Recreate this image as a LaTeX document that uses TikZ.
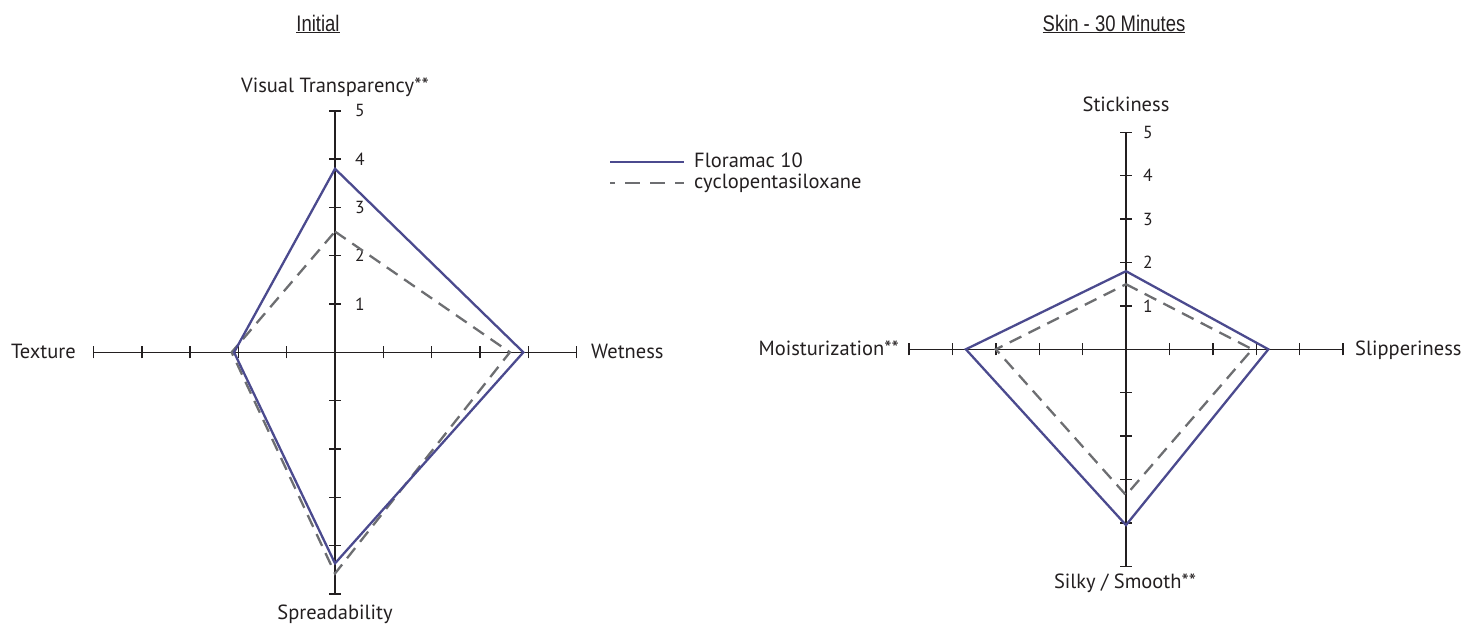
\documentclass[tikz,border=0pt]{standalone}
\usepackage{fontspec}
\setmainfont{PT Sans}
\newfontfamily\titlefont[FakeStretch=0.82]{Liberation Sans}
\definecolor{axiscol}{HTML}{231F20}
\definecolor{floracol}{HTML}{4B4A8E}
\definecolor{cyclocol}{HTML}{6D6E71}
\tikzset{
  axisline/.style={draw=axiscol, line width=1.4pt},
  florastyle/.style={draw=floracol, line width=2.3pt, line join=miter},
  cyclostyle/.style={draw=cyclocol, line width=2.3pt, dash pattern=on 13pt off 8pt, line join=miter},
  axislabel/.style={inner sep=0pt, font=\fontsize{20.5}{22}\selectfont, text=axiscol},
  numlabel/.style={inner sep=0pt, anchor=west, font=\fontsize{17.5}{19}\selectfont, text=axiscol},
  titlelabel/.style={inner sep=0pt, font=\titlefont\fontsize{22.5}{24}\selectfont, text=axiscol},
  legendtext/.style={inner sep=0pt, anchor=west, font=\fontsize{20.5}{22}\selectfont, text=axiscol}
}
\begin{document}
\begin{tikzpicture}[x=1pt,y=-1pt]
\useasboundingbox (0,0) rectangle (1463,624);

% ---------- titles ----------
\node[titlelabel] (t1) at (318,24) {\underline{Initial}};
\node[titlelabel] (t2) at (1114,24) {\underline{Skin - 30 Minutes}};

% ---------- left chart ----------
\begin{scope}[shift={(335,352.3)}, x=48.3pt, y=48.3pt]
  \draw[axisline] (-5,0) -- (5,0);
  \draw[axisline] (0,-5) -- (0,5);
  \foreach \i in {-5,-4,-3,-2,-1,1,2,3,4,5} {
    \draw[axisline] (\i,0) ++(0pt,-6pt) -- ++(0pt,12pt);
    \draw[axisline] (0,\i) ++(-6pt,0pt) -- ++(12pt,0pt);
  }
  \foreach \i in {1,...,5} {
    \node[numlabel] (ln\i) at ([xshift=20pt]0,\i) {\i};
  }
  \draw[cyclostyle] (0,2.5) -- (3.62,0) -- (0,-4.58) -- (-2.14,0) -- cycle;
  \draw[florastyle] (0,3.8) -- (3.9,0) -- (0,-4.37) -- (-2.09,0) -- cycle;
\end{scope}
\node[axislabel] (vt) at (335,87) {Visual Transparency**};
\node[axislabel] (sp) at (335,614) {Spreadability};
\node[axislabel, anchor=east] (tx) at (76,351) {Texture};
\node[axislabel, anchor=west] (we) at (591,351) {Wetness};

% ---------- legend ----------
\node[legendtext] (lg1) at (694,160) {Floramac 10};
\node[legendtext] (lg2) at (694,183) {cyclopentasiloxane};
\draw[florastyle] (610,162.3) -- (684,162.3);
\draw[draw=cyclocol, line width=1.8pt, dash pattern=on 15pt off 10pt, dash phase=10pt] (610,183.3) -- (684,183.3);

% ---------- right chart ----------
\begin{scope}[shift={(1126,349.3)}, x=43.4pt, y=43.4pt]
  \draw[axisline] (-5,0) -- (5,0);
  \draw[axisline] (0,-5) -- (0,5);
  \foreach \i in {-5,-4,-3,-2,-1,1,2,3,4,5} {
    \draw[axisline] (\i,0) ++(0pt,-6pt) -- ++(0pt,12pt);
    \draw[axisline] (0,\i) ++(-6pt,0pt) -- ++(12pt,0pt);
  }
  \foreach \i in {1,...,5} {
    \node[numlabel] (rn\i) at ([xshift=17pt]0,\i) {\i};
  }
  \draw[cyclostyle] (0,1.5) -- (2.91,0) -- (0,-3.36) -- (-3.0,0) -- cycle;
  \draw[florastyle] (0,1.8) -- (3.28,0) -- (0,-4.05) -- (-3.69,0) -- cycle;
\end{scope}
\node[axislabel] (st) at (1126,104) {Stickiness};
\node[axislabel] (ss) at (1125,583) {Silky / Smooth**};
\node[axislabel, anchor=east] (mo) at (899,348) {Moisturization**};
\node[axislabel, anchor=west] (sl) at (1355,350) {Slipperiness};
\end{tikzpicture}
\end{document}
